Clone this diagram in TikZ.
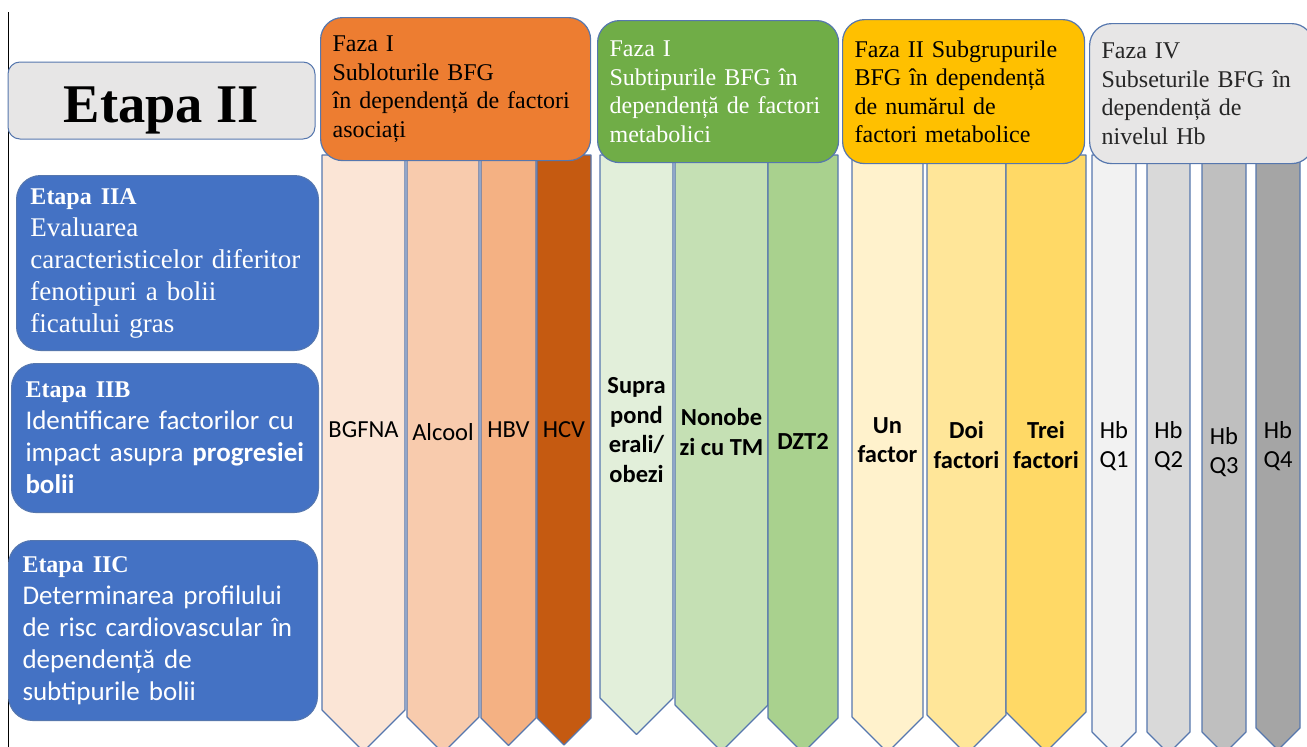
\documentclass[tikz,border=0pt]{standalone}
\usepackage{fontspec}
\setmainfont{Liberation Serif}
\setsansfont{Carlito}
\usetikzlibrary{positioning}

\definecolor{edgeblue}{HTML}{5677AE}
\definecolor{stageblue}{HTML}{4472C4}
\definecolor{lightgray}{HTML}{E7E6E6}
\definecolor{orH}{HTML}{ED7D31}
\definecolor{grH}{HTML}{70AD47}
\definecolor{yeH}{HTML}{FFC000}
\definecolor{orA}{HTML}{FBE5D6}
\definecolor{orB}{HTML}{F8CBAD}
\definecolor{orC}{HTML}{F4B183}
\definecolor{orD}{HTML}{C55A11}
\definecolor{grA}{HTML}{E2EFDA}
\definecolor{grB}{HTML}{C5E0B4}
\definecolor{grC}{HTML}{A9D18E}
\definecolor{yeA}{HTML}{FFF2CC}
\definecolor{yeB}{HTML}{FFE699}
\definecolor{yeC}{HTML}{FFD966}
\definecolor{gyA}{HTML}{F2F2F2}
\definecolor{gyB}{HTML}{D9D9D9}
\definecolor{gyC}{HTML}{BFBFBF}
\definecolor{gyD}{HTML}{A5A5A5}

\begin{document}
\begin{tikzpicture}[x=1pt,y=-1pt]
      \tikzstyle{column} = [draw=edgeblue, line width=1.2pt, line join=round]
      \tikzstyle{header} = [draw=edgeblue, line width=1.2pt, rounded corners=22pt, anchor=north west,
        inner xsep=12pt, align=left, font=\fontsize{24}{28.5}\selectfont]
      \tikzstyle{stage} = [draw=edgeblue, line width=1pt, fill=stageblue, text=white, rounded corners=24pt,
        anchor=north west, inner xsep=14pt, align=left]

      \clip (0,0) rectangle (1307,747);
      \draw[line width=1.5pt] (8.5,12) -- (8.5,747);

      % columns under the headers
      \foreach \a/\b/\s/\c/\ty/\f/\t [count=\i] in {
          322/405/710/orA/430/\mdseries/BGFNA,
          407/479/717/orB/432/\mdseries/Alcool,
          481/536/718/orC/430/\mdseries/HBV,
          537/591/718/orD/430/\mdseries/HCV,
          600/673/698/grA/430/\bfseries/{Supra\\pond\\erali/\\obezi},
          675/768/705/grB/432/\bfseries/{Nonobe\\zi cu TM},
          768/838/718/grC/441/\bfseries/DZT2,
          852/923/717/yeA/440/\bfseries/{Un\\factor},
          927/1006/715/yeB/445/\bfseries/{Doi\\factori},
          1006/1086/712/yeC/445/\bfseries/{Trei\\factori},
          1092/1136/732/gyA/446/\mdseries/{Hb\\Q1},
          1147/1190/732/gyB/446/\mdseries/{Hb\\Q2},
          1202/1246/732/gyC/452/\mdseries/{Hb\\Q3},
          1256/1300/728/gyD/446/\mdseries/{Hb\\Q4}}{
          \pgfmathsetmacro{\m}{(\a+\b)/2}
          \pgfmathsetmacro{\tip}{\s+(\b-\a)/2}
          \draw[column, fill=\c] (\a,155) -- (\b,155) -- (\b,\s) -- (\m,\tip) -- (\a,\s) -- cycle;
          \node[align=center, inner sep=0pt, font=\fontsize{24.5}{29.5}\selectfont\sffamily\f] (col\i) at (\m,\ty) {\t};
      }

      % headers
      \node[header, fill=orH, minimum width=270pt, minimum height=143pt, text width=246pt] (hdrA) at (320,17)
        {Faza I\\Subloturile BFG\\în dependență de factori\\asociați};
      \node[header, fill=grH, text=white, minimum width=241pt, minimum height=142pt, text width=217pt] (hdrB) at (597,20)
        {Faza I\\Subtipurile BFG în\\dependență de factori\\metabolici};
      \node[header, fill=yeH, minimum width=242pt, minimum height=144pt, text width=218pt] (hdrC) at (842,19)
        {Faza II Subgrupurile\\BFG în dependență\\de numărul de\\factori metabolice};
      \node[header, fill=lightgray, text=black!85, minimum width=224pt, minimum height=140pt, text width=200pt] (hdrD) at (1089,23)
        {Faza IV\\Subseturile BFG în\\dependență de\\nivelul Hb};

      % stages on the left
      \node[draw=edgeblue, line width=1pt, fill=lightgray, rounded corners=12pt, minimum width=307pt, minimum height=77pt]
        (etapa) at (161.5,100.5) {};
      \node[anchor=base, inner sep=0pt, font=\fontsize{54.5}{60}\selectfont\bfseries] (etapaText) at (161.5,122) {Etapa II};
      \node[stage, minimum width=302pt, minimum height=175pt, text width=274pt, font=\fontsize{27}{32}\selectfont] (etapaA) at (16,175)
        {{\fontsize{24}{32}\selectfont\bfseries Etapa IIA}\\Evaluarea\\caracteristicelor diferitor\\fenotipuri a bolii\\ficatului gras};
      \node[stage, minimum width=307pt, minimum height=149pt, text width=279pt, font=\fontsize{27}{32}\selectfont\sffamily] (etapaB) at (11,363)
        {{\fontsize{24}{32}\selectfont\rmfamily\bfseries Etapa IIB}\\Identificare factorilor cu\\impact asupra \textbf{progresiei}\\\textbf{bolii}};
      \node[stage, minimum width=309pt, minimum height=180pt, text width=281pt, font=\fontsize{27}{32}\selectfont\sffamily] (etapaC) at (8,540)
        {{\fontsize{24}{32}\selectfont\rmfamily\bfseries Etapa IIC}\\Determinarea profilului\\de risc cardiovascular în\\dependență de\\subtipurile bolii};
\end{tikzpicture}
\end{document}
